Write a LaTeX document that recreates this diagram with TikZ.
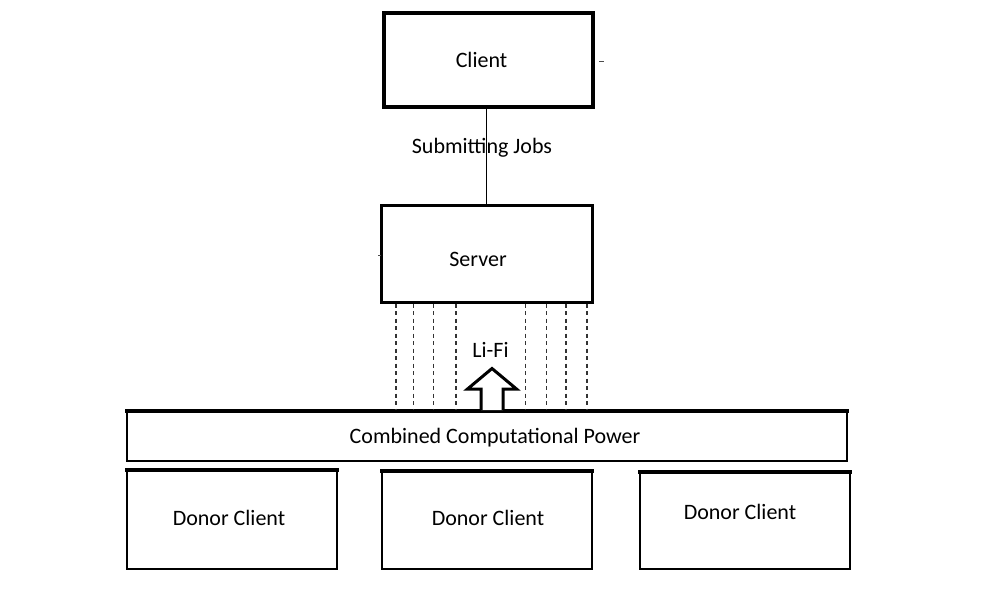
\documentclass[tikz,border=0pt]{standalone}
\usepackage{fontspec}
\setmainfont{Carlito}
\begin{document}
\begin{tikzpicture}[x=1pt,y=-1pt,
  box/.style={draw=black, line width=3pt, inner sep=0pt, outer sep=0pt},
  thinbox/.style={draw=black, line width=2pt, inner sep=0pt, outer sep=0pt},
  topedge/.style={line width=4pt, line cap=rect},
  lbl/.style={font=\fontsize{22}{26}\selectfont, anchor=base, inner sep=0pt},
  dashline/.style={draw=black!80, line width=1.2pt, dash pattern=on 4pt off 3.5pt},
  conn/.style={draw=black, line width=1pt}
]
\useasboundingbox[fill=white] (0,0) rectangle (991,600);

% boxes
\node[box, line width=3.5pt, minimum width=209pt, minimum height=94pt] (client) at (488.5,60) {};
\node[box, minimum width=211pt, minimum height=97pt] (server) at (486.5,253.5) {};
\node[thinbox, minimum width=720pt, minimum height=50pt] (comb) at (487,436) {};
\node[thinbox, minimum width=210pt, minimum height=99pt] (d1) at (232,519) {};
\node[thinbox, minimum width=210pt, minimum height=98pt] (d2) at (487,520) {};
\node[thinbox, minimum width=210pt, minimum height=97pt] (d3) at (745,520.5) {};
\draw[topedge] (comb.north west) -- (comb.north east);
\draw[topedge] (d1.north west) -- (d1.north east);
\draw[topedge] (d2.north west) -- (d2.north east);
\draw[topedge] (d3.north west) -- (d3.north east);

% labels
\node[lbl] (tclient) at (481.5,67) {Client};
\node[lbl] (tserver) at (478,266.5) {Server};
\node[lbl] (tcomb) at (495,443) {Combined Computational Power};
\node[lbl] (td1) at (229,525) {Donor Client};
\node[lbl] (td2) at (488,525) {Donor Client};
\node[lbl] (td3) at (740,519) {Donor Client};

% connector client -> server
\draw[conn] (server.north |- client.south) -- (server.north);
\node[lbl] (tsub) at (482,153) {Submitting Jobs};

% tiny stray marks
\draw[black!70, line width=0.8pt] (599,61) -- (604,61);
\draw[black!70, line width=0.8pt] (378,255) -- (381,255);

% Li-Fi dashed rays
\foreach \x in {396,413.5,433.5,456,525.5,546.5,566,587}
  \draw[dashline] (\x,303.5) -- (\x,409);
\node[lbl] (tlifi) at (490.5,357) {Li-Fi};

% block arrow
\draw[line width=3pt, line join=miter, fill=white]
  (481,410) -- (481,389) -- (467.5,389) -- (492,368.5) -- (516.5,389) -- (503,389) -- (503,410);
\end{tikzpicture}
\end{document}
